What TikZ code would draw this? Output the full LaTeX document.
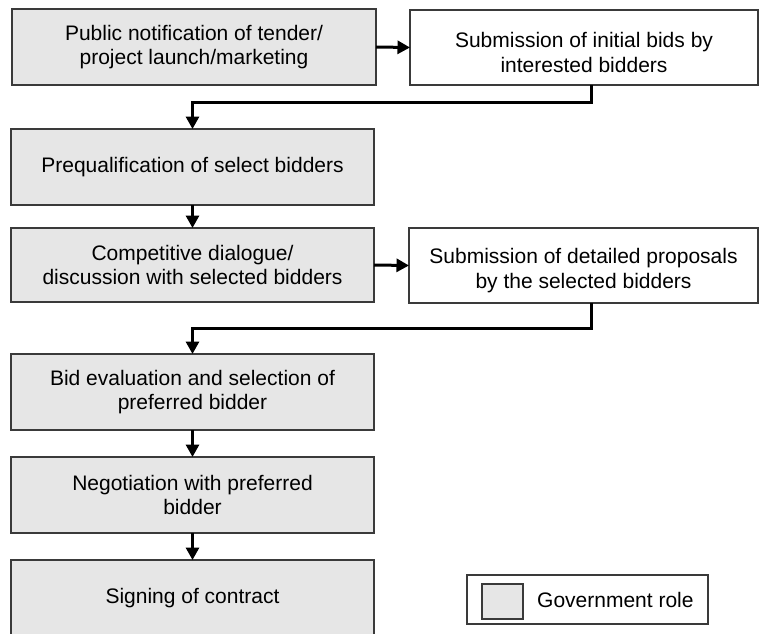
\documentclass[tikz,border=0pt]{standalone}
\usepackage{fontspec}
\setmainfont{Liberation Sans}
\usetikzlibrary{arrows.meta}
\definecolor{govfill}{HTML}{E6E6E6}
\definecolor{edgegray}{HTML}{3A3A3A}
\begin{document}
\begin{tikzpicture}[x=1pt,y=-1pt,
  stagefont/.style={font=\fontsize{21}{24.5}\selectfont},
  stage/.style={draw=edgegray, line width=1.3pt, fill=govfill,
    minimum width=363pt, minimum height=76pt, inner sep=0pt, outer sep=0pt,
    align=center, stagefont},
  bidder/.style={stage, fill=white},
  lowtext/.style={label={[stagefont, align=center, inner sep=0pt, yshift=-5pt]center:#1}},
  conn/.style={line width=3pt, -{Triangle[length=12.5pt,width=13pt]}},
  legendframe/.style={draw=edgegray, line width=1.3pt, fill=white,
    minimum width=241pt, minimum height=49pt, inner sep=0pt, outer sep=0pt},
  swatch/.style={draw=edgegray, line width=1.3pt, fill=govfill,
    minimum width=41pt, minimum height=35pt, inner sep=0pt, outer sep=0pt},
]
\clip (0,0) rectangle (760,634);
\fill[white] (0,0) rectangle (760,634);

% process stages
\node[stage, minimum width=364pt] (b1) at (194,47)
  {Public notification of tender/\\project launch/marketing};
\node[bidder, minimum width=348pt, minimum height=75pt,
  lowtext={Submission of initial bids by\\interested bidders}] (b2) at (584,47.5) {};
\node[stage] (b3) at (192.5,167) {Prequalification of select bidders};
\node[stage, minimum height=74pt] (b4) at (192.5,265)
  {Competitive dialogue/\\discussion with selected bidders};
\node[bidder, minimum width=349pt, minimum height=75pt,
  lowtext={Submission of detailed proposals\\by the selected bidders}] (b5) at (583.5,265.5) {};
\node[stage] (b6) at (192.5,392)
  {Bid evaluation and selection of\\preferred bidder};
\node[stage] (b7) at (192.5,495)
  {Negotiation with preferred\\bidder};
\node[stage] (b8) at (192.5,598) {Signing of contract};

% legend
\node[legendframe] (lg) at (587.5,599.5) {};
\node[swatch] (sw) at (502.5,601.5) {};
\node[anchor=west, inner sep=0pt, stagefont] (lgtext) at (537,600) {Government role};

% connectors
\draw[conn] (b1.east) -- (b2.west);
\draw[conn] ([xshift=7pt]b2.south) -- ++(0,17) -| (b3.north);
\draw[conn] (b3.south) -- (b4.north);
\draw[conn] (b4.east) -- (b5.west);
\draw[conn] ([xshift=7.5pt]b5.south) -- ++(0,25) -| (b6.north);
\draw[conn] (b6.south) -- (b7.north);
\draw[conn] (b7.south) -- (b8.north);
\end{tikzpicture}
\end{document}
